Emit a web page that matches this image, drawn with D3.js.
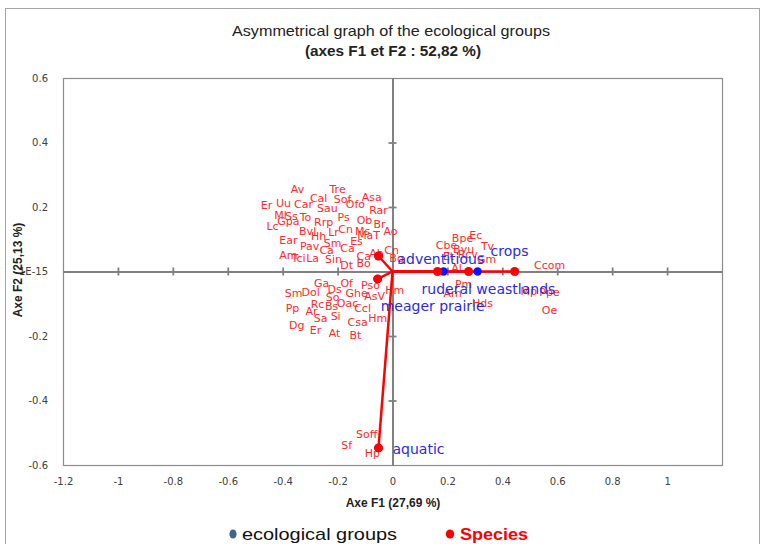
<!DOCTYPE html>
<html><head><meta charset="utf-8">
<script src="https://cdn.jsdelivr.net/npm/d3@7"></script>
<style>body{margin:0;background:#fff}</style>
</head><body><svg id="c" width="773" height="544"></svg>
<script>
// ---- data ----
const xTicks = [-1.2,-1,-0.8,-0.6,-0.4,-0.2,0,0.2,0.4,0.6,0.8,1];
const xTickLabels = ["-1.2","-1","-0.8","-0.6","-0.4","-0.2","0","0.2","0.4","0.6","0.8","1"];
const yTicks = [0.6,0.4,0.2,0,-0.2,-0.4,-0.6];
const yTickLabels = ["0.6","0.4","0.2","1E-15","-0.2","-0.4","-0.6"];

const speciesNames = ["Av","Tre","Cal","Sof","Asa","Er","Uu","Car","Sau","Ofo","Rar","Ml","Ss","To","Lc","Gpa","Rrp","Ps","Ob","Br","Cn","Ms","Ao","Bvl","Hh","Lr","MaT","Ear","Sm","Es","Pav","Ca","Ca","Am","Tci","La","Sin","Dt","Bo","Ca","Ah","Cn","Bg",
 "Ga","Of","Pso","Hm","Sm","Dol","Ds","Ghe","AsV","So","Pp","Ar","Rc","Bs","Oac","Ccl","Sa","Si","Csa","Hm","Dg","Er","At","Bt",
 "Cbe","Bpe","Ec","Byu","Tv","Et","Rcv","Gm","Al","Pm","Am","Hds","Ccom","Mp","Ppe","Oe","Soff","Sf","Hp"];
const speciesF1 = [-0.346,-0.200,-0.269,-0.182,-0.076,-0.459,-0.397,-0.324,-0.237,-0.135,-0.051,-0.408,-0.368,-0.317,-0.437,-0.379,-0.251,-0.178,-0.102,-0.047,-0.171,-0.109,-0.007,-0.309,-0.269,-0.215,-0.087,-0.379,-0.218,-0.131,-0.302,-0.240,-0.164,-0.379,-0.342,-0.291,-0.215,-0.167,-0.105,-0.105,-0.058,-0.003,0.015,
 -0.258,-0.167,-0.080,0.008,-0.360,-0.298,-0.211,-0.131,-0.065,-0.218,-0.364,-0.295,-0.273,-0.222,-0.164,-0.109,-0.262,-0.207,-0.127,-0.054,-0.349,-0.280,-0.211,-0.135,
 0.197,0.255,0.303,0.259,0.346,0.204,0.274,0.343,0.233,0.259,0.219,0.328,0.572,0.496,0.572,0.572,-0.094,-0.167,-0.073];
const speciesF2 = [0.256,0.256,0.228,0.225,0.231,0.206,0.212,0.209,0.197,0.209,0.191,0.175,0.172,0.169,0.141,0.157,0.153,0.169,0.160,0.147,0.132,0.126,0.126,0.126,0.110,0.122,0.113,0.098,0.088,0.095,0.079,0.067,0.073,0.051,0.042,0.042,0.039,0.020,0.026,0.048,0.057,0.067,0.042,
 -0.036,-0.036,-0.042,-0.057,-0.067,-0.064,-0.054,-0.067,-0.076,-0.079,-0.113,-0.122,-0.101,-0.107,-0.098,-0.113,-0.144,-0.138,-0.157,-0.144,-0.166,-0.181,-0.191,-0.197,
 0.082,0.104,0.113,0.070,0.079,0.048,0.054,0.039,0.011,-0.039,-0.067,-0.098,0.020,-0.060,-0.064,-0.119,-0.504,-0.538,-0.563];

// species vectors (red) drawn from the origin
const vectorF1 = [-0.051,-0.054,-0.051,0.164,0.277,0.445];
const vectorF2 = [0.048,-0.023,-0.547,0,0,0];

// ecological groups (blue)
const groupNames = ["adventitious","meager prairie","aquatic","ruderal weastlands","crops"];
const groupF1 = [-0.051,-0.054,-0.051,0.186,0.310];
const groupF2 = [0.048,-0.023,-0.547,0,0];

// ---- drawing ----
const svg = d3.select("#c");
const L=63,R=722,T=78,B=465;
const x = d3.scaleLinear().domain([-1.2,1.2]).range([L,R]);
const y = d3.scaleLinear().domain([-0.6,0.6]).range([B,T]);
const tickFont = "DejaVu Sans, sans-serif";

svg.append("rect").attr("x",0).attr("y",0).attr("width",773).attr("height",544).attr("fill","#fff");
svg.append("rect").attr("x",5.5).attr("y",8.5).attr("width",754).attr("height",560)
  .attr("fill","none").attr("stroke","#a6a6a6").attr("stroke-width",1);

// titles
svg.append("text").attr("x",391).attr("y",36).attr("text-anchor","middle")
  .attr("font-family","Liberation Sans, Arial, sans-serif").attr("font-size",15).attr("fill","#222")
  .attr("textLength",318).attr("lengthAdjust","spacingAndGlyphs")
  .text("Asymmetrical graph of the ecological groups");
svg.append("text").attr("x",393).attr("y",56).attr("text-anchor","middle")
  .attr("font-family","Liberation Sans, Arial, sans-serif").attr("font-size",14).attr("font-weight","bold").attr("fill","#222")
  .attr("textLength",176).attr("lengthAdjust","spacingAndGlyphs")
  .text("(axes F1 et F2 : 52,82 %)");

// plot frame
svg.append("rect").attr("x",L+0.5).attr("y",T+0.5).attr("width",R-L).attr("height",B-T)
  .attr("fill","none").attr("stroke","#8c8c8c").attr("stroke-width",1.2);

// tick labels at edges
const gxl = svg.append("g").attr("transform",`translate(0,${B+12})`)
  .call(d3.axisBottom(x).tickValues(xTicks).tickSize(0).tickFormat((d,i)=>xTickLabels[i]));
gxl.select(".domain").remove();
gxl.selectAll("text").attr("font-family",tickFont).attr("font-size",10).attr("fill","#404040").attr("dy","0.5em");
const gyl = svg.append("g").attr("transform",`translate(${L-12},0)`)
  .call(d3.axisLeft(y).tickValues(yTicks).tickSize(0).tickFormat((d,i)=>yTickLabels[i]));
gyl.select(".domain").remove();
gyl.selectAll("text").attr("font-family",tickFont).attr("font-size",10).attr("fill","#404040");

// crossing axes at zero with cross ticks
function crossAxis(gen, tr){
  const g = svg.append("g").attr("transform",tr).call(gen);
  g.selectAll("text").remove();
  g.select(".domain").attr("stroke","#808080").attr("stroke-width",1.8);
  g.selectAll(".tick line").attr("stroke","#808080").attr("stroke-width",1.8);
  return g;
}
const xTickNZ = xTicks.filter(d=>d!==0 && d!==-1.2);
const yTickNZ = yTicks.filter(d=>d!==0 && Math.abs(d)!==0.6);
crossAxis(d3.axisBottom(x).tickValues(xTickNZ).tickSizeInner(4).tickSizeOuter(0), `translate(0,${y(0)})`);
crossAxis(d3.axisTop(x).tickValues(xTickNZ).tickSizeInner(4).tickSizeOuter(0), `translate(0,${y(0)})`);
crossAxis(d3.axisLeft(y).tickValues(yTickNZ).tickSizeInner(4).tickSizeOuter(0), `translate(${x(0)},0)`);
crossAxis(d3.axisRight(y).tickValues(yTickNZ).tickSizeInner(4).tickSizeOuter(0), `translate(${x(0)},0)`);

// axis titles
svg.append("text").attr("x",393).attr("y",507).attr("text-anchor","middle")
  .attr("font-family","Liberation Sans, Arial, sans-serif").attr("font-size",12).attr("font-weight","bold").attr("fill","#222")
  .text("Axe F1 (27,69 %)");
svg.append("text").attr("transform","translate(22,270) rotate(-90)").attr("text-anchor","middle")
  .attr("font-family","Liberation Sans, Arial, sans-serif").attr("font-size",12).attr("font-weight","bold").attr("fill","#222")
  .text("Axe F2 (25,13 %)");

// species labels
const species = speciesNames.map((n,i)=>({n, f1:speciesF1[i], f2:speciesF2[i]}));
svg.append("g").selectAll("text").data(species).join("text")
  .attr("x",d=>x(d.f1)).attr("y",d=>y(d.f2)).attr("text-anchor","middle").attr("dy","0.36em")
  .attr("font-family",tickFont).attr("font-size",11).attr("fill","#ff2a2a")
  .text(d=>d.n);

// red vectors
const vecs = vectorF1.map((v,i)=>({f1:v,f2:vectorF2[i]}));
svg.append("g").selectAll("line").data(vecs).join("line")
  .attr("x1",x(0)).attr("y1",y(0)).attr("x2",d=>x(d.f1)).attr("y2",d=>y(d.f2))
  .attr("stroke","#ff0000").attr("stroke-width",2.5);

// blue group points
const groups = groupNames.map((n,i)=>({n,f1:groupF1[i],f2:groupF2[i]}));
svg.append("g").selectAll("circle").data(groups).join("circle")
  .attr("cx",d=>x(d.f1)).attr("cy",d=>y(d.f2)).attr("r",4.2).attr("fill","#0a14ff");

// red vector end points
svg.append("g").selectAll("circle").data(vecs).join("circle")
  .attr("cx",d=>x(d.f1)).attr("cy",d=>y(d.f2)).attr("r",4.5).attr("fill","#ff0000");

// group labels
const off = {"adventitious":[19,3],"meager prairie":[3,27],"aquatic":[14,1],"ruderal weastlands":[-22,17],"crops":[13,-21]};
svg.append("g").selectAll("text").data(groups).join("text")
  .attr("x",d=>x(d.f1)+off[d.n][0]).attr("y",d=>y(d.f2)+off[d.n][1]).attr("dy","0.36em")
  .attr("font-family",tickFont).attr("font-size",14).attr("fill","#2a2ae6")
  .text(d=>d.n);

// legend
svg.append("ellipse").attr("cx",233).attr("cy",534).attr("rx",3.6).attr("ry",4.6).attr("fill","#3e6497");
svg.append("text").attr("x",242).attr("y",534).attr("dy","0.36em")
  .attr("font-family","Liberation Sans, Arial, sans-serif").attr("font-size",17).attr("fill","#111")
  .attr("textLength",155).attr("lengthAdjust","spacingAndGlyphs").text("ecological groups");
svg.append("ellipse").attr("cx",450).attr("cy",534).attr("rx",4.2).attr("ry",4.6).attr("fill","#ff0000");
svg.append("text").attr("x",460).attr("y",534).attr("dy","0.36em")
  .attr("font-family","Liberation Sans, Arial, sans-serif").attr("font-size",17).attr("font-weight","bold").attr("fill","#ff0000")
  .attr("textLength",68).attr("lengthAdjust","spacingAndGlyphs").text("Species");
</script></body></html>
